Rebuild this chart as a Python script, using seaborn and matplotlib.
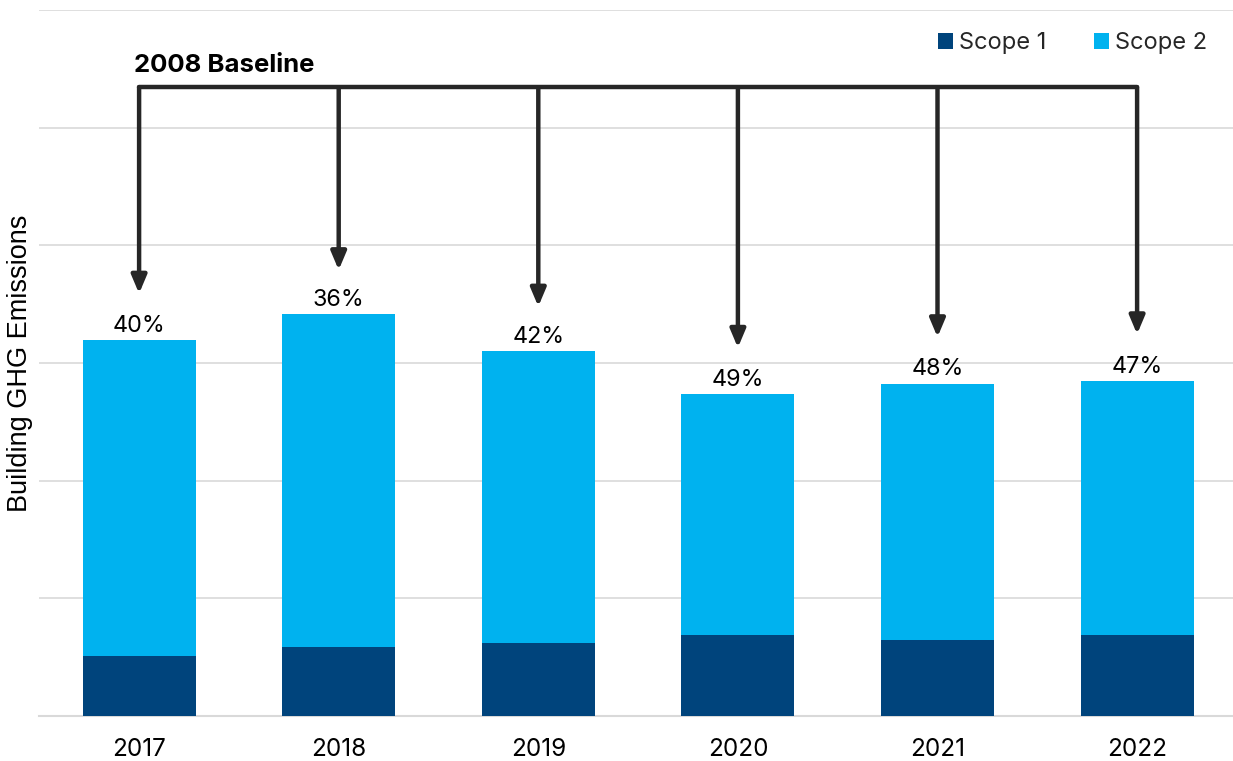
import matplotlib
matplotlib.use("Agg")
import matplotlib.pyplot as plt
import seaborn as sns
import pandas as pd
import numpy as np

years = ["2017", "2018", "2019", "2020", "2021", "2022"]
scope1 = [0.51, 0.59, 0.62, 0.69, 0.65, 0.69]
scope2 = [2.685, 2.825, 2.48, 2.046, 2.175, 2.156]
reduction_labels = ["40%", "36%", "42%", "49%", "48%", "47%"]
arrow_tips = [3.59, 3.79, 3.48, 3.13, 3.22, 3.245]
baseline_level = 5.344

c1 = "#00447C"
c2 = "#00B2EF"

sns.set_theme(style="white")
plt.rcParams["font.family"] = ["Inter", "DejaVu Sans"]

fig = plt.figure(figsize=(12.33, 7.61), dpi=100)
ax = fig.add_axes([39.3/1233, 45/761, 1197.6/1233, 706/761])

df = pd.DataFrame({"year": years, "s1": scope1, "s2": scope2})
df["total"] = df["s1"] + df["s2"]

sns.barplot(data=df, x="year", y="total", color=c2, width=0.567, ax=ax,
            saturation=1, label="Scope 2", zorder=3, linewidth=0)
sns.barplot(data=df, x="year", y="s1", color=c1, width=0.567, ax=ax,
            saturation=1, label="Scope 1", zorder=4, linewidth=0)

ax.set_xlim(-0.5, 5.5)
ax.set_ylim(0, 6)
ax.set_yticks(np.arange(0, 7, 1))
ax.set_yticklabels([])
ax.grid(axis="y", color="#d9d9d9", linewidth=1.2, zorder=0)
ax.set_axisbelow(True)
for s in ["top", "right", "left"]:
    ax.spines[s].set_visible(False)
ax.spines["bottom"].set_color("#d9d9d9")
ax.spines["bottom"].set_linewidth(1.5)
ax.tick_params(axis="x", length=0, labelsize=17.5, pad=15.5, colors="black")
ax.tick_params(axis="y", length=0)
ax.set_xlabel("")
ax.set_ylabel("Building GHG Emissions", fontsize=19.5, color="black",
              family=["Liberation Sans", "DejaVu Sans"])
ax.yaxis.set_label_coords(-6/1197.6, 0.5)

# data labels
for i, (t, lab) in enumerate(zip(df["total"], reduction_labels)):
    ax.text(i, t + 0.03, lab, ha="center", va="bottom", fontsize=16.8, color="black", zorder=6)

# baseline line and arrows
ax.plot([0, 5], [baseline_level, baseline_level], color="#262626", lw=3.2,
        solid_capstyle="round", zorder=7, clip_on=False)
for i, tip in enumerate(arrow_tips):
    ax.annotate("", xy=(i, tip), xytext=(i, baseline_level),
                arrowprops=dict(arrowstyle="-|>,head_length=0.9,head_width=0.38",
                                color="#262626", lw=3.2, shrinkA=0, shrinkB=0,
                                capstyle="round"),
                zorder=7)
ax.text(-0.025, baseline_level + 0.09, "2008 Baseline", ha="left", va="bottom",
        fontsize=18.5, fontweight="bold", color="black")

# legend
handles, labels = ax.get_legend_handles_labels()
order = [labels.index("Scope 1"), labels.index("Scope 2")]
leg = ax.legend([handles[k] for k in order], [labels[k] for k in order],
                loc="upper right", bbox_to_anchor=(0.993, 0.999), ncol=2, frameon=False,
                fontsize=17, handlelength=0.65, handleheight=0.65, handletextpad=0.25,
                columnspacing=2.0)

fig.savefig("out.png", dpi=100)
